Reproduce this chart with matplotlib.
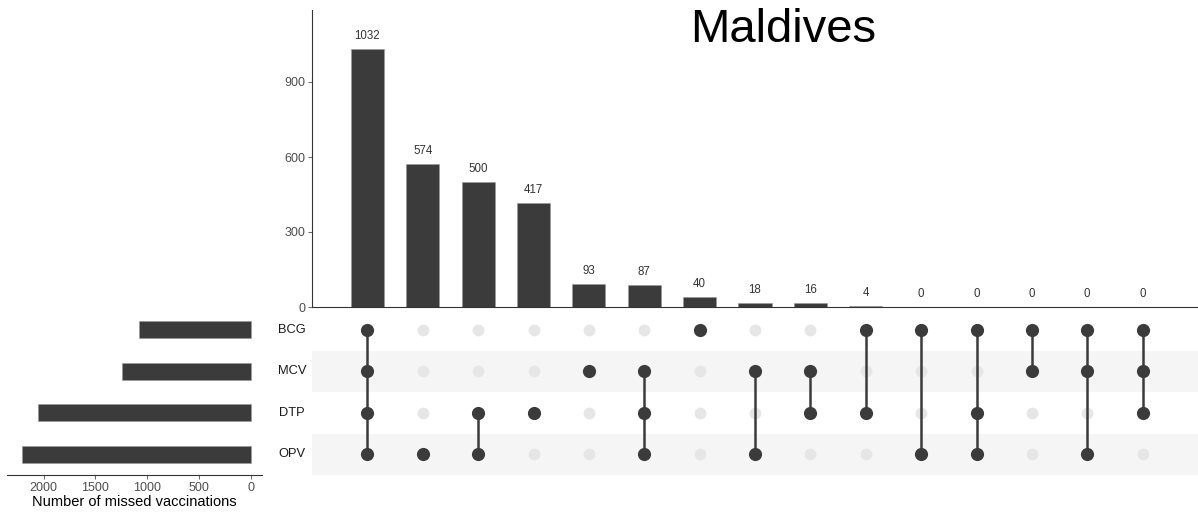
import matplotlib
matplotlib.use("Agg")
import matplotlib.pyplot as plt

plt.rcParams['font.family'] = ['Liberation Sans', 'DejaVu Sans']

sets = ["BCG", "MCV", "DTP", "OPV"]
set_sizes = [1076, 1246, 2056, 2211]
intersection_counts = [1032, 574, 500, 417, 93, 87, 40, 18, 16, 4, 0, 0, 0, 0, 0]
intersection_members = [
    ["BCG", "MCV", "DTP", "OPV"],
    ["OPV"],
    ["DTP", "OPV"],
    ["DTP"],
    ["MCV"],
    ["MCV", "DTP", "OPV"],
    ["BCG"],
    ["MCV", "OPV"],
    ["MCV", "DTP"],
    ["BCG", "DTP"],
    ["BCG", "OPV"],
    ["BCG", "DTP", "OPV"],
    ["BCG", "MCV"],
    ["BCG", "MCV", "OPV"],
    ["BCG", "MCV", "DTP"],
]
title = "Maldives"
top_ticks = [0, 300, 600, 900]
left_ticks = [2000, 1500, 1000, 500, 0]

W, H = 1198, 513
dark = "#3b3b3b"
fig = plt.figure(figsize=(W / 100, H / 100), dpi=100)

def ax_px(x0, y0, x1, y1):
    return fig.add_axes([x0 / W, 1 - y1 / H, (x1 - x0) / W, (y1 - y0) / H])

ncol = len(intersection_counts)
# top bar chart
axb = ax_px(312, 10, 1198, 307)
xs = list(range(ncol))
axb.bar(xs, intersection_counts, width=0.6, color=dark, edgecolor="#9a9a9a", linewidth=0.4)
for x, v in zip(xs, intersection_counts):
    axb.annotate(str(v), (x, v), xytext=(0, 5), textcoords="offset points",
                 ha="center", va="bottom", fontsize=8.3, color="#333333")
axb.set_xlim(-1, ncol)
axb.set_ylim(0, 1188)
axb.set_yticks(top_ticks)
axb.tick_params(axis="y", labelsize=9, colors="#4d4d4d", length=3, width=0.6, pad=2)
axb.set_xticks([])
for s in ["top", "right"]:
    axb.spines[s].set_visible(False)
axb.spines["left"].set_color("#333333")
axb.spines["bottom"].set_color("#333333")
axb.spines["left"].set_linewidth(0.8)
axb.spines["bottom"].set_linewidth(0.8)
axb.set_facecolor("none")
fig.text(783 / W, 1 - 30 / H, title, fontsize=34, ha="center", va="center", color="black")

# matrix
axm = ax_px(312, 309, 1198, 475)
axm.set_xlim(-1, ncol)
axm.set_ylim(len(sets) - 0.5, -0.5)
for i in range(len(sets)):
    if i % 2 == 1:
        axm.axhspan(i - 0.5, i + 0.5, color="#f5f5f5", zorder=0, lw=0)
for x, members in enumerate(intersection_members):
    rows = [sets.index(m) for m in members]
    axm.scatter([x] * len(sets), range(len(sets)), s=72, color="#e6e6e6", zorder=1, lw=0)
    if len(rows) > 1:
        axm.plot([x, x], [min(rows), max(rows)], color=dark, lw=1.8, zorder=2)
    axm.scatter([x] * len(rows), rows, s=90, color=dark, zorder=3, lw=0)
axm.axis("off")
label_x = -1 + (292 - 312) / (1198 - 312) * (ncol + 1)
for i, name in enumerate(sets):
    axm.text(label_x, i, name, ha="center", va="center",
             fontsize=9.3, color="#1a1a1a", clip_on=False)

# left set-size bars
axl = ax_px(7, 309, 262, 475)
axl.barh(range(len(sets)), set_sizes, height=0.4, color=dark, edgecolor="#9a9a9a", linewidth=0.4)
axl.set_xlim(2355, -109)
axl.set_ylim(len(sets) - 0.5, -0.5)
axl.set_yticks([])
axl.set_xticks(left_ticks)
axl.tick_params(axis="x", labelsize=9, colors="#4d4d4d", length=3, width=0.6, pad=2)
for s in ["top", "right", "left"]:
    axl.spines[s].set_visible(False)
axl.spines["bottom"].set_color("#333333")
axl.spines["bottom"].set_linewidth(0.8)
axl.set_xlabel("Number of missed vaccinations", fontsize=10.5, color="black", labelpad=1)
axl.set_facecolor("none")

fig.savefig("out.png", dpi=100)
